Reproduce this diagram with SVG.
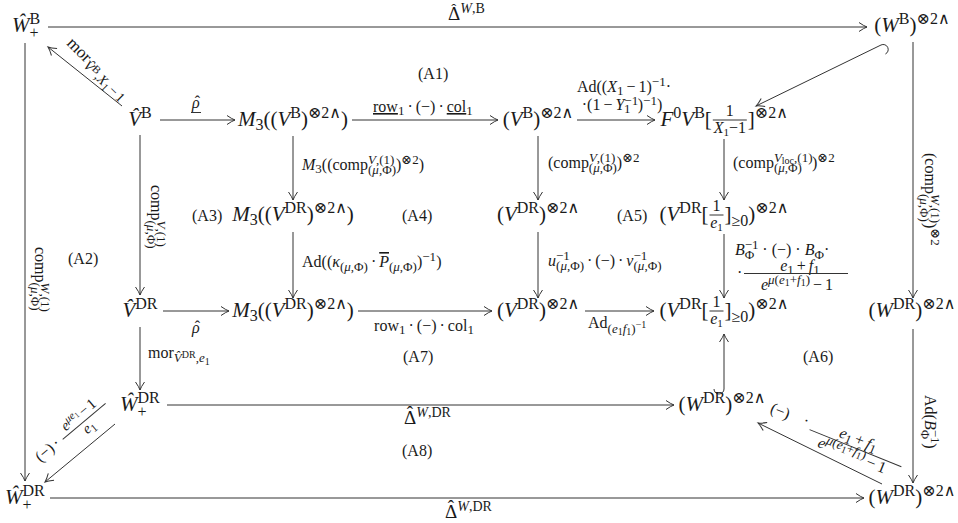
<svg xmlns="http://www.w3.org/2000/svg" width="958" height="523" viewBox="0 0 958 523">
<defs>
<marker id="ah" viewBox="-10 -6 12 12" refX="0" refY="0" markerWidth="12" markerHeight="12" markerUnits="userSpaceOnUse" orient="auto">
<path d="M-8,-4.5 Q-3,-1 0,0 Q-3,1 -8,4.5" fill="none" stroke="#333" stroke-width="1"/>
</marker>
<style>
.t{font-family:"Liberation Serif","DejaVu Serif",serif;fill:#1a1a1a}
.n{font-size:21px}
.ns{font-size:16px}
.nss{font-size:11px}
.l{font-size:16px}
.ls{font-size:13px}
.lss{font-size:10px}
.d{font-size:19px}
.h{font-size:15px}
.i{font-style:italic}
.u{text-decoration:underline}
.o{text-decoration:overline}
.ln{stroke:#333;stroke-width:1;fill:none}
.ar{marker-end:url(#ah)}
</style>
</defs>
<rect width="958" height="523" fill="#fff"/>

<g id="connectors" class="ln">
<line class="ar" x1="48" y1="27" x2="867" y2="27"/>
<line class="ar" x1="25" y1="43" x2="25" y2="481"/>
<line class="ar" x1="913" y1="42" x2="913" y2="298"/>
<line class="ar" x1="913" y1="329" x2="913" y2="483"/>
<line class="ar" x1="50" y1="498" x2="864" y2="498"/>
<line class="ar" x1="122" y1="106" x2="48" y2="47"/>
<line class="ar" x1="881" y1="45" x2="756" y2="106"/>
<path d="M881,45 A5,5 0 0 1 885.4,54"/>
<line class="ar" x1="160" y1="120" x2="235" y2="120"/>
<line class="ar" x1="352" y1="120" x2="498" y2="120"/>
<line class="ar" x1="577" y1="120" x2="655" y2="120"/>
<line class="ar" x1="140" y1="135" x2="140" y2="295"/>
<line class="ar" x1="140" y1="327" x2="140" y2="390"/>
<line class="ar" x1="293" y1="136" x2="293" y2="200"/>
<line class="ar" x1="293" y1="232" x2="293" y2="298"/>
<line class="ar" x1="538" y1="136" x2="538" y2="200"/>
<line class="ar" x1="538" y1="232" x2="538" y2="298"/>
<line class="ar" x1="724" y1="139" x2="724" y2="200"/>
<line class="ar" x1="724" y1="234" x2="724" y2="298"/>
<line class="ar" x1="724" y1="389" x2="724" y2="334"/>
<path d="M724,389 A5,5 0 0 1 714,389"/>
<line class="ar" x1="163" y1="311" x2="229" y2="311"/>
<line class="ar" x1="358" y1="311" x2="492" y2="311"/>
<line class="ar" x1="585" y1="311" x2="654" y2="311"/>
<line class="ar" x1="167" y1="405" x2="674" y2="405"/>
<line class="ar" x1="115" y1="424" x2="45" y2="482"/>
<line class="ar" x1="882" y1="484" x2="758" y2="423"/>
</g>

<g id="n-WB-plus"><text class="t n" x="12" y="32"><tspan class="i">Ŵ</tspan><tspan class="ns" dy="-8">B</tspan><tspan class="ns" dx="-10.7" dy="14">+</tspan></text></g>
<g id="n-WB-tensor"><text class="t n" x="912" y="32" text-anchor="middle">(<tspan class="i">W</tspan><tspan class="ns" dy="-8">B</tspan><tspan dy="8">)</tspan><tspan class="ns" dy="-8">⊗2∧</tspan></text></g>
<g id="n-VB-hat"><text class="t n" x="140" y="126" text-anchor="middle"><tspan class="i">V̂</tspan><tspan class="ns" dy="-8">B</tspan></text></g>
<g id="n-M3-VB"><text class="t n" x="293" y="126" text-anchor="middle"><tspan class="i">M</tspan><tspan class="ns" dy="4">3</tspan><tspan dy="-4">((</tspan><tspan class="i">V</tspan><tspan class="ns" dy="-8">B</tspan><tspan dy="8">)</tspan><tspan class="ns" dy="-8">⊗2∧</tspan><tspan dy="8">)</tspan></text></g>
<g id="n-VB-tensor"><text class="t n" x="538" y="126" text-anchor="middle">(<tspan class="i">V</tspan><tspan class="ns" dy="-8">B</tspan><tspan dy="8">)</tspan><tspan class="ns" dy="-8">⊗2∧</tspan></text></g>
<g id="n-F0VB">
<text class="t n" x="660.5" y="126"><tspan class="i">F</tspan><tspan class="ns" dy="-8">0</tspan><tspan class="i" dy="8">V</tspan><tspan class="ns" dy="-8">B</tspan><tspan dy="8">[</tspan></text>
<text class="t ns" x="729.8" y="115.5" text-anchor="middle">1</text>
<line class="ln" x1="712.8" y1="120" x2="746.8" y2="120"/>
<text class="t ns" x="729.8" y="132.5" text-anchor="middle"><tspan class="i">X</tspan><tspan class="nss" dy="3">1</tspan><tspan dy="-3">−1</tspan></text>
<text class="t n" x="747.8" y="126">]<tspan class="ns" dy="-8">⊗2∧</tspan></text>
</g>

<g id="n-M3-VDR"><text class="t n" x="293" y="221" text-anchor="middle"><tspan class="i">M</tspan><tspan class="ns" dy="4">3</tspan><tspan dy="-4">((</tspan><tspan class="i">V</tspan><tspan class="ns" dy="-8">DR</tspan><tspan dy="8">)</tspan><tspan class="ns" dy="-8">⊗2∧</tspan><tspan dy="8">)</tspan></text></g>
<g id="n-VDR-tensor"><text class="t n" x="538" y="221" text-anchor="middle">(<tspan class="i">V</tspan><tspan class="ns" dy="-8">DR</tspan><tspan dy="8">)</tspan><tspan class="ns" dy="-8">⊗2∧</tspan></text></g>
<g id="n-VDR-loc">
<text class="t n" x="659.5" y="221">(<tspan class="i">V</tspan><tspan class="ns" dy="-8">DR</tspan><tspan dy="8">[</tspan></text>
<text class="t ns" x="716.5" y="210.5" text-anchor="middle">1</text>
<line class="ln" x1="709.5" y1="215" x2="723.5" y2="215"/>
<text class="t ns" x="716.5" y="227.5" text-anchor="middle"><tspan class="i">e</tspan><tspan class="nss" dy="3">1</tspan></text>
<text class="t n" x="724.5" y="221">]<tspan class="ns" dy="5">≥0</tspan><tspan dy="-5">)</tspan><tspan class="ns" dy="-8">⊗2∧</tspan></text>
</g>

<g id="n-VDR-hat"><text class="t n" x="140" y="317" text-anchor="middle"><tspan class="i">V̂</tspan><tspan class="ns" dy="-8">DR</tspan></text></g>
<g id="n-M3-VDR-2"><text class="t n" x="293" y="317" text-anchor="middle"><tspan class="i">M</tspan><tspan class="ns" dy="4">3</tspan><tspan dy="-4">((</tspan><tspan class="i">V</tspan><tspan class="ns" dy="-8">DR</tspan><tspan dy="8">)</tspan><tspan class="ns" dy="-8">⊗2∧</tspan><tspan dy="8">)</tspan></text></g>
<g id="n-VDR-tensor-2"><text class="t n" x="538" y="317" text-anchor="middle">(<tspan class="i">V</tspan><tspan class="ns" dy="-8">DR</tspan><tspan dy="8">)</tspan><tspan class="ns" dy="-8">⊗2∧</tspan></text></g>
<g id="n-VDR-loc-2">
<text class="t n" x="659.5" y="317">(<tspan class="i">V</tspan><tspan class="ns" dy="-8">DR</tspan><tspan dy="8">[</tspan></text>
<text class="t ns" x="716.5" y="306.5" text-anchor="middle">1</text>
<line class="ln" x1="709.5" y1="311" x2="723.5" y2="311"/>
<text class="t ns" x="716.5" y="323.5" text-anchor="middle"><tspan class="i">e</tspan><tspan class="nss" dy="3">1</tspan></text>
<text class="t n" x="724.5" y="317">]<tspan class="ns" dy="5">≥0</tspan><tspan dy="-5">)</tspan><tspan class="ns" dy="-8">⊗2∧</tspan></text>
</g>
<g id="n-WDR-tensor-r"><text class="t n" x="912" y="317" text-anchor="middle">(<tspan class="i">W</tspan><tspan class="ns" dy="-8">DR</tspan><tspan dy="8">)</tspan><tspan class="ns" dy="-8">⊗2∧</tspan></text></g>

<g id="n-WDR-plus"><text class="t n" x="120" y="411"><tspan class="i">Ŵ</tspan><tspan class="ns" dy="-8">DR</tspan><tspan class="ns" dx="-22.2" dy="14">+</tspan></text></g>
<g id="n-WDR-tensor-m"><text class="t n" x="722" y="411" text-anchor="middle">(<tspan class="i">W</tspan><tspan class="ns" dy="-8">DR</tspan><tspan dy="8">)</tspan><tspan class="ns" dy="-8">⊗2∧</tspan></text></g>
<g id="n-WDR-plus-b"><text class="t n" x="5" y="504"><tspan class="i">Ŵ</tspan><tspan class="ns" dy="-8">DR</tspan><tspan class="ns" dx="-22.2" dy="14">+</tspan></text></g>
<g id="n-WDR-tensor-b"><text class="t n" x="912" y="504" text-anchor="middle">(<tspan class="i">W</tspan><tspan class="ns" dy="-8">DR</tspan><tspan dy="8">)</tspan><tspan class="ns" dy="-8">⊗2∧</tspan></text></g>

<g id="labels">
<text class="t d" x="448" y="19.5">Δ<tspan class="i" font-size="14" dy="-7">W</tspan><tspan font-size="14">,B</tspan></text>
<text class="t h" x="453.8" y="14" text-anchor="middle">ˆ</text>
<text class="t" font-size="17" transform="translate(66,44) rotate(45)">mor<tspan font-size="14" dy="4"><tspan class="i">V̂</tspan><tspan font-size="11" dy="-4">B</tspan><tspan dy="4">,</tspan><tspan class="i">X</tspan><tspan font-size="11" dy="3">1</tspan><tspan dy="-3" dx="2">−</tspan><tspan dx="2">1</tspan></tspan></text>
<text class="t l" x="192" y="108"><tspan class="i">ρ</tspan></text>
<text class="t l" x="197.5" y="107" text-anchor="middle">ˆ</text>
<line class="ln" x1="191" y1="112.5" x2="201" y2="112.5"/>
<text class="t l" x="373" y="112"><tspan class="u">row</tspan><tspan class="ls" dy="3">1</tspan><tspan dy="-3" dx="3">·</tspan><tspan dx="3">(−)</tspan><tspan dx="3">·</tspan><tspan dx="3" class="u">col</tspan><tspan class="ls" dy="3">1</tspan></text>
<text class="t l" x="418" y="79">(A1)</text>
<text class="t l" x="624" y="92" text-anchor="middle">Ad((<tspan class="i">X</tspan><tspan class="ls" dy="3">1</tspan><tspan dy="-3" dx="3">−</tspan><tspan dx="3">1)</tspan><tspan class="ls" dy="-6">−1</tspan><tspan dy="6">·</tspan></text>
<text class="t l" x="622" y="110" text-anchor="middle">·(1<tspan dx="3">−</tspan><tspan dx="3" class="i">Y</tspan><tspan class="ls" dy="-5">−1</tspan><tspan class="ls" dx="-13.8" dy="8">1</tspan><tspan dy="-3" dx="7.3">)</tspan><tspan class="ls" dy="-5">−1</tspan><tspan dy="5">)</tspan></text>

<text class="t l" transform="translate(151,185) rotate(90)">comp<tspan class="ls" dy="-6"><tspan class="i">V</tspan>,(1)</tspan><tspan class="ls" dx="-26.4" dy="10">(<tspan class="i">μ</tspan>,Φ)</tspan></text>
<text class="t l" transform="translate(35,247) rotate(90)">comp<tspan class="ls" dy="-6"><tspan class="i">W</tspan>,(1)</tspan><tspan class="ls" dx="-29.2" dy="10">(<tspan class="i">μ</tspan>,Φ)</tspan></text>
<text class="t l" transform="translate(925,153) rotate(90)">(comp<tspan class="ls" dy="-6"><tspan class="i">W</tspan>,(1)</tspan><tspan class="ls" dx="-29.2" dy="11">(<tspan class="i">μ</tspan>,Φ)</tspan><tspan dy="-5" dx="1">)</tspan><tspan class="ls" dy="-6">⊗2</tspan></text>
<text class="t l" transform="translate(925,395) rotate(90)">Ad(<tspan class="i">B</tspan><tspan class="ls" dy="-6">−1</tspan><tspan class="ls" dx="-13.8" dy="10">Φ</tspan><tspan dy="-4" dx="4">)</tspan></text>

<text class="t l" x="302" y="170"><tspan class="i">M</tspan><tspan class="ls" dy="3">3</tspan><tspan dy="-3">((comp</tspan><tspan class="ls" dy="-6"><tspan class="i">V</tspan>,(1)</tspan><tspan class="ls" dx="-26.4" dy="10">(<tspan class="i">μ</tspan>,Φ)</tspan><tspan dy="-4">)</tspan><tspan class="ls" dy="-6">⊗2</tspan><tspan dy="6">)</tspan></text>
<text class="t l" x="548" y="168">(comp<tspan class="ls" dy="-6"><tspan class="i">V</tspan>,(1)</tspan><tspan class="ls" dx="-26.4" dy="10">(<tspan class="i">μ</tspan>,Φ)</tspan><tspan dy="-4">)</tspan><tspan class="ls" dy="-6">⊗2</tspan></text>
<text class="t l" x="733" y="168">(comp<tspan class="ls" dy="-6"><tspan class="i">V</tspan><tspan class="lss" dy="2">loc</tspan><tspan dy="-2">,(1)</tspan></tspan><tspan class="ls" dx="-38.5" dy="10">(<tspan class="i">μ</tspan>,Φ)</tspan><tspan dy="-4" dx="10">)</tspan><tspan class="ls" dy="-6">⊗2</tspan></text>

<text class="t l" x="68" y="264">(A2)</text>
<text class="t l" x="192" y="221">(A3)</text>
<text class="t l" x="402" y="221">(A4)</text>
<text class="t l" x="617" y="221">(A5)</text>

<text class="t l" x="302" y="267">Ad((<tspan class="i">κ</tspan><tspan class="ls" dy="4">(<tspan class="i">μ</tspan>,Φ)</tspan><tspan dy="-4" dx="3">·</tspan><tspan dx="3" class="i o">P</tspan><tspan class="ls" dy="4">(<tspan class="i">μ</tspan>,Φ)</tspan><tspan dy="-4">)</tspan><tspan class="ls" dy="-6">−1</tspan><tspan dy="6">)</tspan></text>
<text class="t l" x="548" y="266"><tspan class="i">u</tspan><tspan class="ls" dy="-6">−1</tspan><tspan class="ls" dx="-13.8" dy="10">(<tspan class="i">μ</tspan>,Φ)</tspan><tspan dy="-4" dx="3">·</tspan><tspan dx="3">(−)</tspan><tspan dx="3">·</tspan><tspan dx="3" class="i">v</tspan><tspan class="ls" dy="-6">−1</tspan><tspan class="ls" dx="-13.8" dy="10">(<tspan class="i">μ</tspan>,Φ)</tspan></text>

<text class="t l" x="735" y="255"><tspan class="i">B</tspan><tspan class="ls" dy="-6">−1</tspan><tspan class="ls" dx="-13.8" dy="10">Φ</tspan><tspan dy="-4" dx="8">·</tspan><tspan dx="4">(−)</tspan><tspan dx="4">·</tspan><tspan dx="4" class="i">B</tspan><tspan class="ls" dy="4">Φ</tspan><tspan dy="-4">·</tspan></text>
<text class="t l" x="737" y="278">·</text>
<text class="t l" x="800" y="271" text-anchor="middle"><tspan class="i">e</tspan><tspan class="ls" dy="3">1</tspan><tspan dy="-3" dx="3">+</tspan><tspan dx="3" class="i">f</tspan><tspan class="ls" dy="3">1</tspan></text>
<line class="ln" x1="744" y1="273.5" x2="848" y2="273.5"/>
<text class="t l" x="797" y="290" text-anchor="middle"><tspan class="i">e</tspan><tspan class="ls" dy="-6"><tspan class="i">μ</tspan>(<tspan class="i">e</tspan><tspan class="lss" dy="2">1</tspan><tspan dy="-2">+</tspan><tspan class="i">f</tspan><tspan class="lss" dy="2">1</tspan><tspan dy="-2">)</tspan></tspan><tspan dy="6" dx="3">−</tspan><tspan dx="3">1</tspan></text>

<text class="t l" x="192" y="333"><tspan class="i">ρ</tspan></text>
<text class="t l" x="197.5" y="332" text-anchor="middle">ˆ</text>
<text class="t l" x="424" y="331" text-anchor="middle">row<tspan class="ls" dy="3">1</tspan><tspan dy="-3" dx="3">·</tspan><tspan dx="3">(−)</tspan><tspan dx="3">·</tspan><tspan dx="3">col</tspan><tspan class="ls" dy="3">1</tspan></text>
<text class="t l" x="588" y="328">Ad<tspan class="ls" dy="5">(<tspan class="i">e</tspan><tspan class="lss" dy="2">1</tspan><tspan class="i" dy="-2">f</tspan><tspan class="lss" dy="2">1</tspan><tspan dy="-2">)</tspan></tspan><tspan class="lss" dy="-5">−1</tspan></text>

<text class="t l" x="148" y="358">mor<tspan class="ls" dy="4"><tspan class="i">V̂</tspan><tspan class="lss" dy="-4">DR</tspan><tspan dy="4">,</tspan><tspan class="i">e</tspan><tspan class="lss" dy="3">1</tspan></tspan></text>
<text class="t l" x="403" y="362">(A7)</text>
<text class="t l" x="803" y="362">(A6)</text>
<text class="t d" x="404" y="424">Δ<tspan class="i" font-size="14" dy="-7">W</tspan><tspan font-size="14">,DR</tspan></text>
<text class="t d" x="409.8" y="419" text-anchor="middle">ˆ</text>
<text class="t l" x="402" y="456">(A8)</text>
<text class="t d" x="445" y="518">Δ<tspan class="i" font-size="14" dy="-7">W</tspan><tspan font-size="14">,DR</tspan></text>
<text class="t d" x="450.8" y="513" text-anchor="middle">ˆ</text>

<g transform="translate(38,466) rotate(-40)">
<text class="t l" x="4" y="-1">(−)</text>
<text class="t l" x="26" y="-1">·</text>
<text class="t" font-size="15" x="64" y="-8.5" text-anchor="middle"><tspan class="i">e</tspan><tspan font-size="11" dy="-5"><tspan class="i">μe</tspan><tspan font-size="8" dy="2">1</tspan></tspan><tspan dy="3" dx="2">−</tspan><tspan dx="2">1</tspan></text>
<line class="ln" x1="36" y1="-4.5" x2="92" y2="-4.5"/>
<text class="t" font-size="15" x="64" y="7.5" text-anchor="middle"><tspan class="i">e</tspan><tspan font-size="11" dy="3">1</tspan></text>
</g>
<g transform="translate(766,412) rotate(22)">
<text class="t l" x="3" y="-1">(−)</text>
<text class="t l" x="38" y="-2">·</text>
<text class="t l" x="96" y="-4" text-anchor="middle"><tspan class="i">e</tspan><tspan class="ls" dy="3">1</tspan><tspan dy="-3" dx="3">+</tspan><tspan dx="3" class="i">f</tspan><tspan class="ls" dy="3">1</tspan></text>
<line class="ln" x1="47" y1="0" x2="146" y2="0"/>
<text class="t l" x="96" y="13" text-anchor="middle"><tspan class="i">e</tspan><tspan class="ls" dy="-6"><tspan class="i">μ</tspan>(<tspan class="i">e</tspan><tspan class="lss" dy="2">1</tspan><tspan dy="-2">+</tspan><tspan class="i">f</tspan><tspan class="lss" dy="2">1</tspan><tspan dy="-2">)</tspan></tspan><tspan dy="6" dx="3">−</tspan><tspan dx="3">1</tspan></text>
</g>
</g>
</svg>
